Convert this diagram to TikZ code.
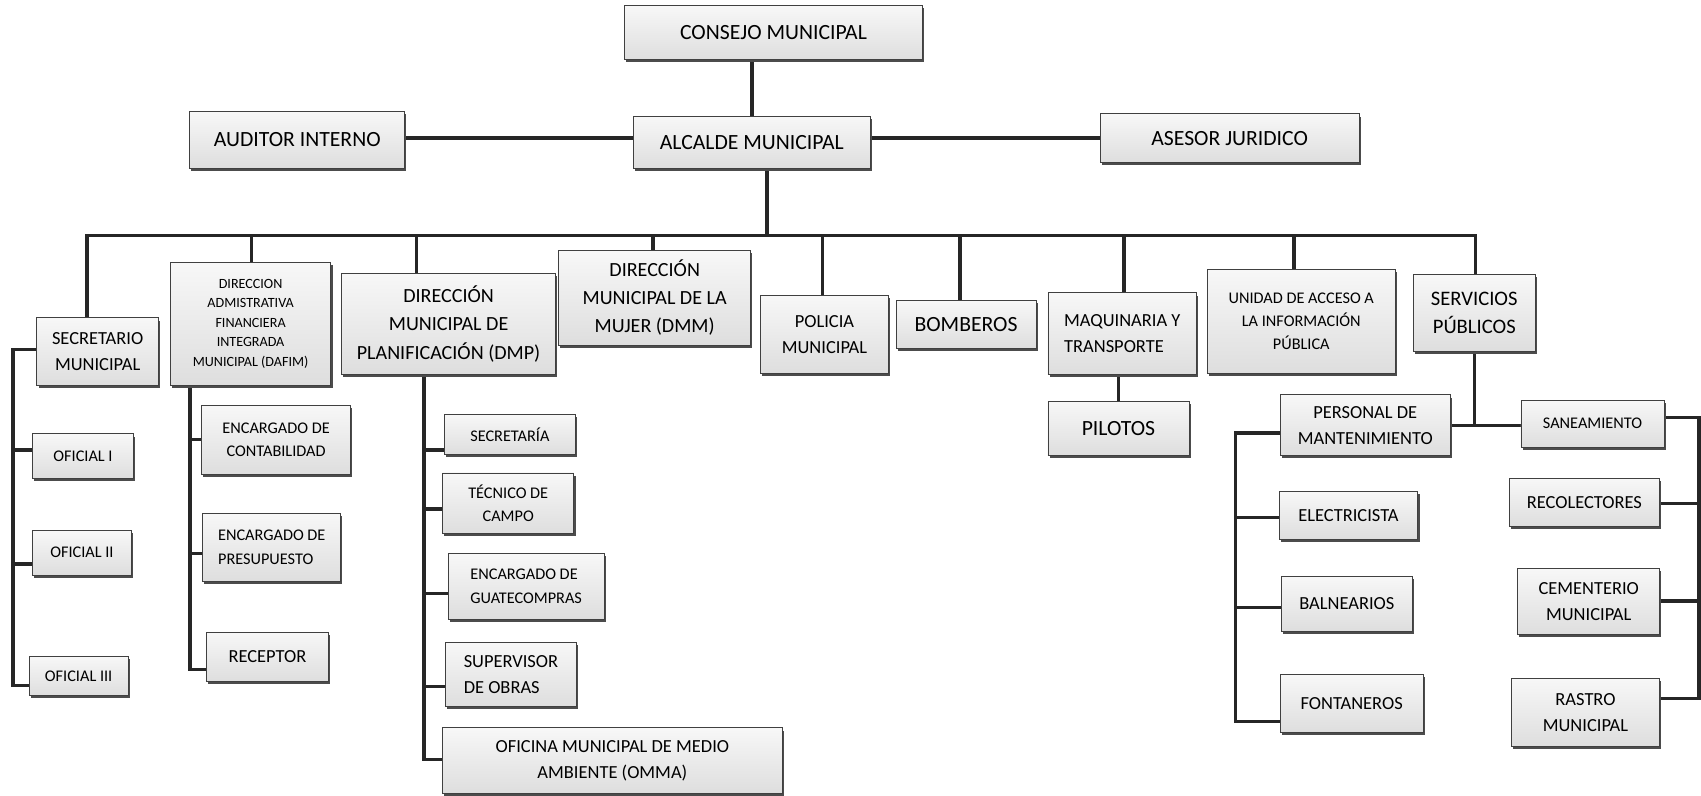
\documentclass[tikz,border=0pt]{standalone}
\usepackage{fontspec}
\setmainfont{Carlito}
\usetikzlibrary{shadows,backgrounds}
\newcommand\orgbox[7]{\node[box,#6,minimum width={(#4-#2)*1pt},minimum height={(#5-#3)*1pt}] (#1) at ({(#2+#4)/2},{(#3+#5)/2}) {#7};}
\newcommand\fA{\fontsize{20}{26}\selectfont}
\newcommand\fM{\fontsize{18.5}{26}\selectfont}
\newcommand\fS{\fontsize{19}{26}\selectfont}
\newcommand\fB{\fontsize{17}{24}\selectfont}
\newcommand\fC{\fontsize{15}{21.5}\selectfont}
\newcommand\fD{\fontsize{13}{18}\selectfont}
\tikzset{
  box/.style={draw=black!75, line width=0.8pt, top color=gray!6, bottom color=gray!26,
    inner sep=1pt, align=center, text=black,
    drop shadow={shadow xshift=1.5pt, shadow yshift=-2.5pt, fill=black!70, opacity=1}},
  conn/.style={line width=3.2pt, draw=black!85, line join=miter},
}
\begin{document}
\begin{tikzpicture}[x=1pt,y=-1pt]
\useasboundingbox (0,0) rectangle (1568,733);
% level 0/1
\orgbox{cons}{576}{5}{850}{55}{font=\fA}{CONSEJO MUNICIPAL}
\orgbox{aud}{175}{103}{373}{155}{font=\fA}{AUDITOR INTERNO}
\orgbox{alc}{584}{107}{802}{155}{font=\fA}{ALCALDE MUNICIPAL}
\orgbox{ase}{1014}{105}{1253}{150}{font=\fA}{ASESOR JURIDICO}
% level 2
\orgbox{sec}{34}{293}{146}{355}{font=\fB}{SECRETARIO\\MUNICIPAL}
\orgbox{dafim}{157}{242}{305}{355}{font=\fD}{DIRECCION\\ADMISTRATIVA\\FINANCIERA\\INTEGRADA\\MUNICIPAL (DAFIM)}
\orgbox{dmp}{315}{252}{512}{345}{font=\fM}{DIRECCIÓN\\MUNICIPAL DE\\PLANIFICACIÓN (DMP)}
\orgbox{dmm}{515}{231}{692}{318}{font=\fM}{DIRECCIÓN\\MUNICIPAL DE LA\\MUJER (DMM)}
\orgbox{pol}{701}{272}{819}{344}{font=\fB}{POLICIA\\MUNICIPAL}
\orgbox{bomb}{826}{277}{955}{321}{font=\fA}{BOMBEROS}
\orgbox{maq}{966}{270}{1103}{345}{font=\fB,align=left}{MAQUINARIA Y\\TRANSPORTE}
\orgbox{uni}{1113}{248}{1286}{344}{font=\fC}{UNIDAD DE ACCESO A\\LA INFORMACIÓN\\PÚBLICA}
\orgbox{serv}{1303}{253}{1415}{324}{font=\fS}{SERVICIOS\\PÚBLICOS}
% secretario children
\orgbox{of1}{30}{400}{123}{441}{font=\fC}{OFICIAL I}
\orgbox{of2}{30}{489}{121}{530}{font=\fC}{OFICIAL II}
\orgbox{of3}{27}{605}{118}{641}{font=\fC}{OFICIAL III}
% dafim children
\orgbox{cont}{186}{374}{323}{437}{font=\fC}{ENCARGADO DE\\CONTABILIDAD}
\orgbox{pres}{187}{473}{314}{536}{font=\fC,align=left}{ENCARGADO DE\\PRESUPUESTO}
\orgbox{rec}{190}{583}{303}{628}{font=\fB}{RECEPTOR}
% dmp children
\orgbox{secr}{410}{382}{530}{419}{font=\fC}{SECRETARÍA}
\orgbox{tec}{408}{436}{529}{492}{font=\fC}{TÉCNICO DE\\CAMPO}
\orgbox{guat}{413}{510}{557}{571}{font=\fC,align=left}{ENCARGADO DE\\GUATECOMPRAS}
\orgbox{sup}{411}{592}{531}{651}{font=\fB,align=left}{SUPERVISOR\\DE OBRAS}
\orgbox{omma}{408}{671}{721}{731}{font=\fB}{OFICINA MUNICIPAL DE MEDIO\\AMBIENTE (OMMA)}
% maquinaria child
\orgbox{pil}{966}{370}{1096}{420}{font=\fA}{PILOTOS}
% servicios children
\orgbox{pers}{1180}{364}{1337}{420}{font=\fB}{PERSONAL DE\\MANTENIMIENTO}
\orgbox{elec}{1179}{453}{1307}{497}{font=\fB}{ELECTRICISTA}
\orgbox{baln}{1181}{531}{1302}{582}{font=\fB}{BALNEARIOS}
\orgbox{fon}{1180}{622}{1312}{675}{font=\fB}{FONTANEROS}
\orgbox{san}{1402}{369}{1534}{412}{font=\fC}{SANEAMIENTO}
\orgbox{reco}{1391}{441}{1530}{485}{font=\fB}{RECOLECTORES}
\orgbox{cem}{1399}{524}{1530}{585}{font=\fB}{CEMENTERIO\\MUNICIPAL}
\orgbox{ras}{1393}{625}{1530}{688}{font=\fB}{RASTRO\\MUNICIPAL}

\begin{scope}[on background layer]
\fill[white] (0,0) rectangle (1568,733);
% top
\draw[conn] (alc.north) -- (alc.north |- cons.south);
\coordinate (h1) at (0,127);
\draw[conn] (aud.east |- h1) -- (alc.west |- h1);
\draw[conn] (alc.east |- h1) -- (ase.west |- h1);
% bus
\coordinate (bt) at (707,217);
\draw[conn] (bt |- alc.south) -- (bt);
\coordinate (t1) at (80,217);
\coordinate (t2) at (232,217);
\coordinate (t3) at (384,217);
\coordinate (t4) at (602,217);
\coordinate (t5) at (758,217);
\coordinate (t6) at (885,217);
\coordinate (t7) at (1036,217);
\coordinate (t8) at (1193,217);
\coordinate (t9) at (1360,217);
\draw[conn] (t1 |- sec.north) -- (t1) -- (t9) -- (t9 |- serv.north);
\draw[conn] (t2) -- (t2 |- dafim.north);
\draw[conn] (t3) -- (t3 |- dmp.north);
\draw[conn] (t4) -- (t4 |- dmm.north);
\draw[conn] (t5) -- (t5 |- pol.north);
\draw[conn] (t6) -- (t6 |- bomb.north);
\draw[conn] (t7) -- (t7 |- maq.north);
\draw[conn] (t8) -- (t8 |- uni.north);
% secretario branch
\coordinate (sa) at (12,322);
\coordinate (sb) at (12,632);
\coordinate (s1) at (12,415);
\coordinate (s2) at (12,520);
\draw[conn] (sec.west |- sa) -- (sa) -- (sb) -- (sb -| of3.west);
\draw[conn] (s1) -- (s1 -| of1.west);
\draw[conn] (s2) -- (s2 -| of2.west);
% dafim branch
\coordinate (da) at (175,355);
\coordinate (db) at (175,617);
\coordinate (d1) at (175,405);
\coordinate (d2) at (175,510);
\draw[conn] (da |- dafim.south) -- (db) -- (db -| rec.west);
\draw[conn] (d1) -- (d1 -| cont.west);
\draw[conn] (d2) -- (d2 -| pres.west);
% dmp branch
\coordinate (pa) at (391,345);
\coordinate (pb) at (391,700);
\coordinate (p1) at (391,415);
\coordinate (p2) at (391,469);
\coordinate (p3) at (391,547);
\coordinate (p4) at (391,633);
\draw[conn] (pa |- dmp.south) -- (pb) -- (pb -| omma.west);
\draw[conn] (p1) -- (p1 -| secr.west);
\draw[conn] (p2) -- (p2 -| tec.west);
\draw[conn] (p3) -- (p3 -| guat.west);
\draw[conn] (p4) -- (p4 -| sup.west);
% maquinaria
\coordinate (mq) at (1031,0);
\draw[conn] (mq |- maq.south) -- (mq |- pil.north);
% servicios
\coordinate (sv) at (1360,392);
\draw[conn] (serv.south) -- (serv.south |- sv);
\draw[conn] (pers.east |- sv) -- (san.west |- sv);
% personal branch
\coordinate (ma) at (1139,399);
\coordinate (mb) at (1139,665);
\coordinate (m1) at (1139,477);
\coordinate (m2) at (1139,560);
\draw[conn] (pers.west |- ma) -- (ma) -- (mb) -- (mb -| fon.west);
\draw[conn] (m1) -- (m1 -| elec.west);
\draw[conn] (m2) -- (m2 -| baln.west);
% right branch
\coordinate (ra) at (1566,385);
\coordinate (rb) at (1566,644);
\coordinate (r1) at (1566,464);
\coordinate (r2) at (1566,554);
\draw[conn] (san.east |- ra) -- (ra) -- (rb) -- (rb -| ras.east);
\draw[conn] (r1) -- (r1 -| reco.east);
\draw[conn] (r2) -- (r2 -| cem.east);
\end{scope}
\end{tikzpicture}
\end{document}
